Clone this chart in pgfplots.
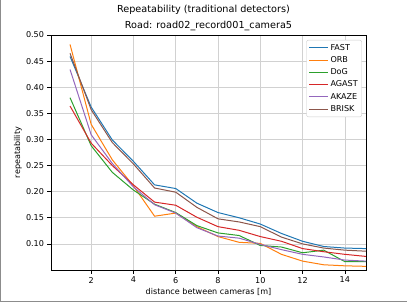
\documentclass[border=0pt]{standalone}
\usepackage{pgfplots}
\pgfplotsset{compat=1.18}
\usepackage{fontspec}
\setmainfont{DejaVu Sans}
\definecolor{tabblue}{HTML}{1F77B4}
\definecolor{taborange}{HTML}{FF7F0E}
\definecolor{tabgreen}{HTML}{2CA02C}
\definecolor{tabred}{HTML}{D62728}
\definecolor{tabpurple}{HTML}{9467BD}
\definecolor{tabbrown}{HTML}{8C564B}
\begin{document}
\begin{tikzpicture}
\useasboundingbox (-51bp,-34bp) rectangle (356bp,270bp);
\draw[black!45, line width=1bp] (-50.5bp,270bp) -- (-50.5bp,-31.5bp) -- (356bp,-31.5bp);
\node[font=\fontsize{9.7}{11}\selectfont] at (152.5bp,260.5bp) {Repeatability (traditional detectors)};
\node[font=\fontsize{9.7}{11}\selectfont] at (157.5bp,244bp) {Road: road02\_record001\_camera5};
\begin{axis}[
  at={(0,0)}, anchor=south west,
  scale only axis, width=315bp, height=235bp,
  xmin=0.1, xmax=15, ymin=0.05, ymax=0.5,
  xtick={2,4,...,14},
  ytick={0.10,0.15,...,0.51},
  yticklabel style={/pgf/number format/.cd, fixed, fixed zerofill, precision=2},
  /pgf/number format/assume math mode=true,
  tick label style={font=\fontsize{8.1}{9.7}\selectfont},
  label style={font=\fontsize{8.1}{9.7}\selectfont},
  xlabel={distance between cameras [m]},
  ylabel={repeatability},
  xlabel style={at={(axis description cs:0.5,-0.0936)}, anchor=center},
  ylabel style={at={(axis description cs:-0.1048,0.5)}, anchor=center, rotate=0},
  tick align=outside, tick pos=left,
  major tick length=3.5bp,
  every tick/.style={black, line width=0.6bp},
  axis line style={line width=0.6bp},
  grid=major,
  major grid style={color=black!18, line width=0.6bp},
  every axis plot/.append style={line width=1bp},
  legend cell align=left,
  legend style={at={(0.987,0.979)}, anchor=north east, draw=black!20, rounded corners=2bp,
    font=\fontsize{8.1}{9.7}\selectfont, row sep=0.8bp, inner sep=2bp},
  legend image code/.code={\draw[#1] (0bp,0bp) -- (19bp,0bp);},
]
\addplot[tabblue] coordinates {(1,0.459) (2,0.362) (3,0.299) (4,0.258) (5,0.213) (6,0.206) (7,0.178) (8,0.160) (9,0.150) (10,0.138) (11,0.120) (12,0.105) (13,0.095) (14,0.092) (15,0.091)};
\addlegendentry{FAST}
\addplot[taborange] coordinates {(1,0.482) (2,0.329) (3,0.261) (4,0.211) (5,0.153) (6,0.159) (7,0.133) (8,0.114) (9,0.103) (10,0.101) (11,0.080) (12,0.067) (13,0.060) (14,0.058) (15,0.057)};
\addlegendentry{ORB}
\addplot[tabgreen] coordinates {(1,0.380) (2,0.288) (3,0.237) (4,0.203) (5,0.176) (6,0.160) (7,0.135) (8,0.121) (9,0.116) (10,0.097) (11,0.094) (12,0.083) (13,0.088) (14,0.066) (15,0.066)};
\addlegendentry{DoG}
\addplot[tabred] coordinates {(1,0.364) (2,0.293) (3,0.250) (4,0.213) (5,0.180) (6,0.174) (7,0.151) (8,0.133) (9,0.126) (10,0.114) (11,0.105) (12,0.091) (13,0.085) (14,0.080) (15,0.076)};
\addlegendentry{AGAST}
\addplot[tabpurple] coordinates {(1,0.434) (2,0.309) (3,0.254) (4,0.209) (5,0.175) (6,0.159) (7,0.131) (8,0.115) (9,0.111) (10,0.099) (11,0.089) (12,0.080) (13,0.075) (14,0.069) (15,0.067)};
\addlegendentry{AKAZE}
\addplot[tabbrown] coordinates {(1,0.465) (2,0.357) (3,0.294) (4,0.253) (5,0.207) (6,0.199) (7,0.170) (8,0.148) (9,0.142) (10,0.133) (11,0.113) (12,0.100) (13,0.092) (14,0.088) (15,0.086)};
\addlegendentry{BRISK}
\end{axis}
\end{tikzpicture}
\end{document}
